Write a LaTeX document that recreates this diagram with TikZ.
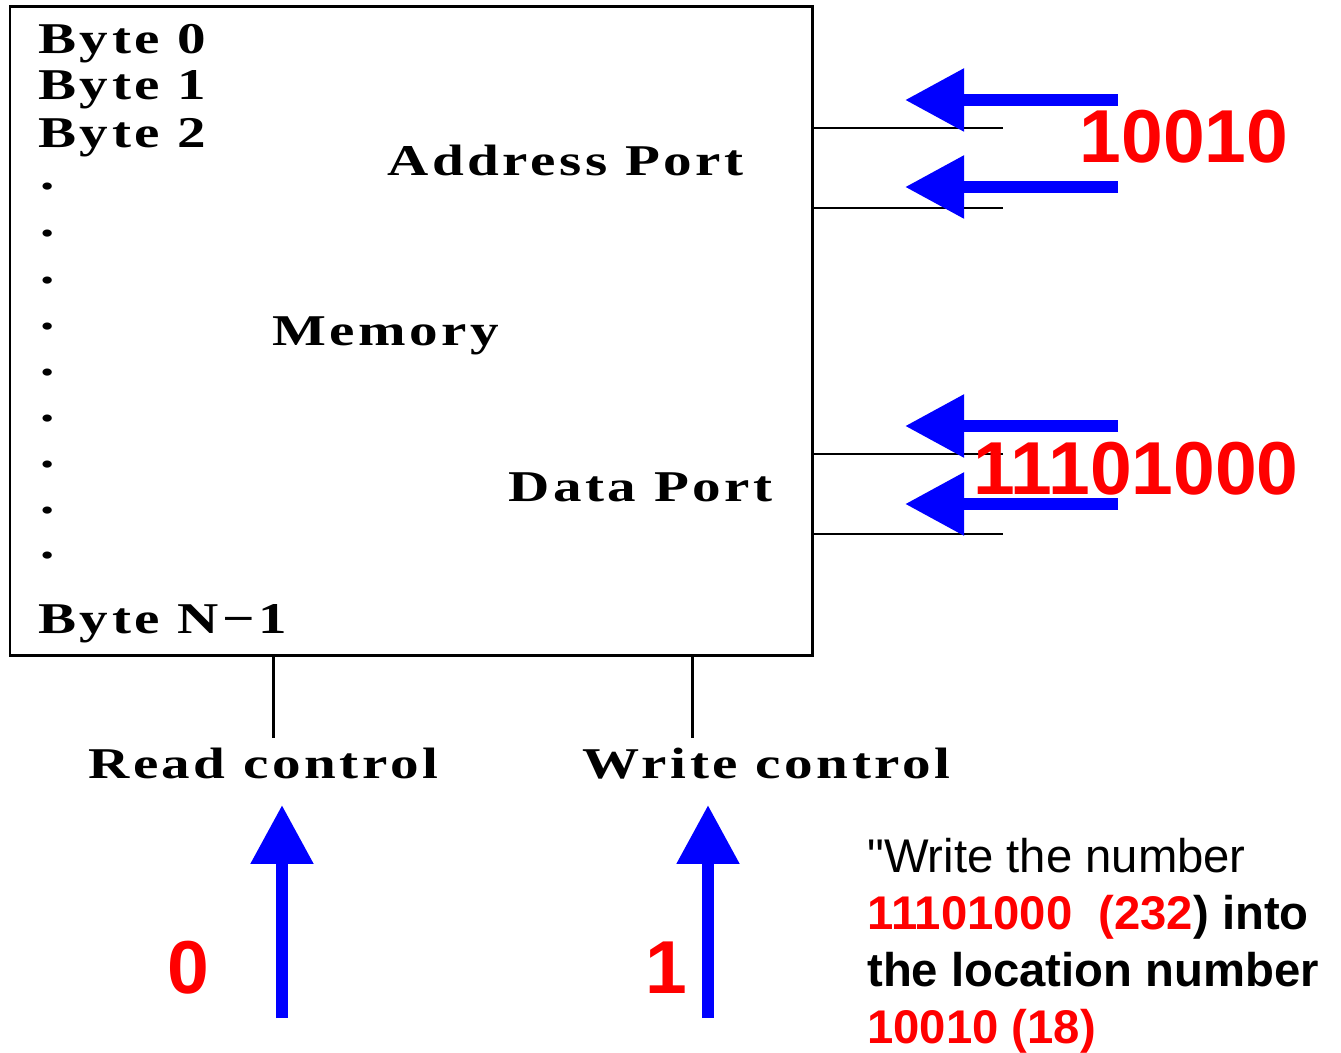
\documentclass[tikz,border=0pt]{standalone}
\usepackage{fontspec}
\setmainfont{Liberation Sans}[Ligatures=TeXOff]
\newfontfamily\bmfont[FakeStretch=1.3, LetterSpace=8]{Liberation Serif}
\usetikzlibrary{positioning, arrows.meta}
\definecolor{portBlue}{RGB}{0,0,255}
\definecolor{bitRed}{RGB}{255,0,0}
\tikzset{
	oldtext/.style={font=\bmfont\bfseries\fontsize{25}{30}\selectfont, inner sep=0pt, anchor=base west},
	bignum/.style={font=\bfseries\fontsize{42.7}{50}\selectfont, text=bitRed, inner sep=0pt},
	busarr/.style={-{Triangle[length=1.18cm, width=1.2cm]}, line width=0.24cm, draw=portBlue},
	wire/.style={line width=0.05cm},
	ctlwire/.style={line width=0.06cm}
}
\begin{document}
\begin{tikzpicture}[x=0.02cm, y=-0.02cm]
	\useasboundingbox (0,0) rectangle (1341,1053);
	% memory block
	\node[draw, line width=0.06cm, minimum width=16.06cm, minimum height=12.98cm,
		inner sep=0pt, outer sep=0pt, anchor=north west] (mem) at (10,6.5) {};
	\node[oldtext] (byte0) at (38,54) {Byte 0};
	\node[oldtext] (byte1) at (38,100) {Byte 1};
	\node[oldtext] (byte2) at (38,148) {Byte 2};
	\foreach \y [count=\i] in {190,237,284,330,376,422,468,514,559}
		\node[oldtext] (gap\i) at (40,\y) {.};
	\node[oldtext] (byteN) at (38,633) {Byte N−1};
	\node[oldtext] (addr) at (387,176) {Address Port};
	\node[oldtext] (memlbl) at (272,346) {Memory};
	\node[oldtext] (data) at (508,501) {Data Port};
	% port wires
	\coordinate (a1) at (1003,128);
	\coordinate (a2) at (1003,208);
	\coordinate (d1) at (1003,454);
	\coordinate (d2) at (1003,534);
	\draw[wire] (a1 -| mem.east) -- (a1);
	\draw[wire] (a2 -| mem.east) -- (a2);
	\draw[wire] (d1 -| mem.east) -- (d1);
	\draw[wire] (d2 -| mem.east) -- (d2);
	% bits coming in
	\coordinate (ain1) at (1118,100);  \coordinate (atip1) at (905,100);
	\coordinate (ain2) at (1118,187);  \coordinate (atip2) at (905,187);
	\coordinate (din1) at (1118,426);  \coordinate (dtip1) at (905,426);
	\coordinate (din2) at (1118,504);  \coordinate (dtip2) at (905,504);
	\draw[busarr] (ain1) -- (atip1);
	\draw[busarr] (ain2) -- (atip2);
	\draw[busarr] (din1) -- (dtip1);
	\draw[busarr] (din2) -- (dtip2);
	\node[bignum] (addrbits) at (1184,137) {10010};
	\node[bignum] (databits) at (1136,469) {11101000};
	% control lines
	\node[oldtext] (rdlbl) at (88,778) {Read control};
	\node[oldtext] (wrlbl) at (582,778) {Write control};
	\coordinate (rd) at (273,738);
	\coordinate (wr) at (692,738);
	\draw[ctlwire] (rd |- mem.south) -- (rd);
	\draw[ctlwire] (wr |- mem.south) -- (wr);
	\coordinate (rin) at (282,1018);  \coordinate (rtip) at (282,805);
	\coordinate (win) at (708,1018);  \coordinate (wtip) at (708,805);
	\draw[busarr] (rin) -- (rtip);
	\draw[busarr] (win) -- (wtip);
	\node[bignum] (rdbit) at (188,968) {0};
	\node[bignum] (wrbit) at (666,968) {1};
	\node[anchor=north west, align=left, inner sep=0pt, font=\fontsize{26.9}{32.4}\selectfont] (note) at (867,838)
		{"Write the number\\
		\textbf{\textcolor{bitRed}{11101000~~(232}) into}\\
		\textbf{the location number}\\
		\textbf{\textcolor{bitRed}{10010 (18)}}};
\end{tikzpicture}
\end{document}
